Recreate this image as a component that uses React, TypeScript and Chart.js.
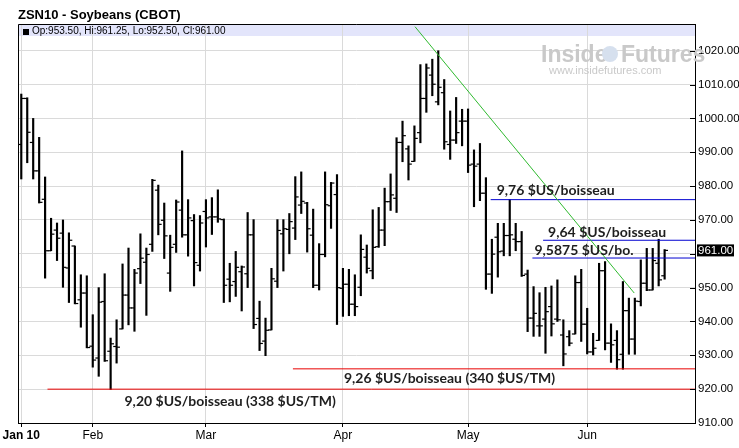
import React, { useEffect, useRef } from "react";
import { Chart, registerables } from "chart.js";

Chart.register(...registerables);

// ---- data ----
const monthTickIdx = [0, 12, 31, 54, 75, 95];
const monthLabels = ["Jan 10", "Feb", "Mar", "Apr", "May", "Jun"];

const opens = [
  992.3, 1005.9, 992.9, 984.5, 976.1, 960.9, 967.0, 966.1, 955.8, 962.3,
  946.4, 948.4, 932.7, 929.2, 945.9, 931.2, 932.6, 937.8, 947.8, 944.0,
  955.6, 957.5, 962.8, 978.8, 969.9, 954.3, 962.8, 972.9, 965.6, 969.8,
  956.6, 972.5, 970.9, 970.9, 970.1, 952.5, 951.8, 954.7, 954.1, 965.6,
  940.9, 934.2, 937.5, 951.9, 965.9, 967.2, 967.6, 974.4, 975.0, 965.5,
  950.7, 959.8, 974.2, 977.5, 949.8, 951.0, 945.1, 950.1, 959.0, 955.0,
  962.1, 967.0, 975.4, 976.4, 992.9, 991.0, 987.3, 995.8, 1005.9, 1012.8,
  1004.9, 1007.6, 992.3, 993.6, 999.2, 999.2, 986.5, 986.5, 977.9, 954.0,
  964.9, 960.8, 965.4, 964.3, 963.6, 954.0, 941.0, 938.7, 940.7, 944.4,
  940.7, 936.0, 935.5, 936.3, 951.5, 939.2, 931.0, 934.4, 955.0, 933.6,
  934.4, 930.3, 943.2, 934.8, 945.9, 951.3, 949.3, 957.2, 953.5,
];
const highs = [
  1007.2, 1006.1, 1000.0, 994.4, 982.7, 970.5, 969.1, 970.0, 966.2, 962.3,
  953.8, 953.5, 942.0, 950.0, 954.1, 935.1, 940.5, 957.0, 961.7, 955.4,
  965.9, 961.7, 982.0, 980.3, 975.0, 965.5, 975.9, 990.4, 976.0, 971.6,
  971.3, 976.0, 976.6, 978.9, 970.3, 957.2, 960.7, 956.4, 972.2, 970.1,
  946.0, 941.0, 955.7, 970.1, 970.1, 971.9, 982.8, 984.2, 975.2, 973.2,
  963.0, 984.2, 981.1, 983.4, 955.7, 955.4, 953.8, 965.6, 962.6, 973.0,
  973.7, 979.4, 983.6, 994.3, 999.2, 991.9, 997.8, 1015.9, 1016.1, 1017.5,
  1020.0, 1011.5, 1002.2, 1006.2, 1002.7, 1002.8, 990.7, 992.6, 982.5, 964.3,
  969.0, 969.0, 976.0, 969.0, 966.6, 955.2, 950.3, 948.5, 950.1, 950.5,
  952.3, 940.5, 937.3, 953.5, 955.4, 943.9, 936.5, 957.2, 957.7, 939.3,
  937.3, 951.8, 946.9, 946.9, 958.2, 961.6, 961.6, 964.3, 961.25,
];
const lows = [
  982.1, 986.9, 982.1, 975.0, 952.8, 960.9, 958.0, 950.1, 945.6, 945.2,
  938.3, 932.2, 926.5, 923.8, 928.2, 919.9, 927.7, 937.8, 939.0, 937.1,
  951.2, 941.8, 960.7, 965.6, 958.6, 948.9, 960.4, 964.9, 959.3, 950.5,
  954.9, 962.0, 965.7, 969.3, 945.6, 945.8, 947.4, 943.1, 950.0, 937.9,
  931.4, 929.9, 937.5, 950.0, 954.9, 960.0, 964.2, 971.9, 960.5, 950.0,
  949.3, 959.1, 967.5, 939.1, 941.5, 941.7, 941.7, 947.6, 954.3, 952.6,
  961.9, 962.4, 972.8, 972.2, 987.2, 981.8, 987.3, 992.8, 1001.8, 1006.7,
  1004.0, 990.9, 987.9, 992.6, 991.9, 984.0, 973.9, 975.7, 949.5, 948.3,
  953.1, 959.4, 959.4, 960.9, 953.3, 937.0, 935.6, 935.6, 930.6, 935.7,
  940.0, 926.9, 932.8, 936.3, 934.1, 930.4, 930.1, 934.4, 931.6, 927.9,
  925.9, 925.9, 930.3, 930.3, 944.6, 949.1, 949.3, 950.5, 952.5,
];
const closes = [
  1005.9, 995.9, 984.5, 975.2, 960.9, 965.8, 964.6, 956.0, 964.0, 945.3,
  948.4, 932.3, 928.6, 945.7, 928.4, 933.4, 932.4, 947.8, 944.0, 954.3,
  958.7, 959.8, 981.7, 968.7, 965.3, 961.9, 975.3, 965.6, 970.6, 957.4,
  969.1, 970.6, 970.9, 970.3, 950.7, 950.7, 956.0, 956.1, 965.6, 939.1,
  933.5, 937.4, 952.6, 966.9, 967.4, 969.5, 976.8, 975.5, 967.4, 950.7,
  959.8, 974.5, 980.9, 950.0, 951.0, 945.1, 944.4, 961.3, 955.7, 961.9,
  967.0, 975.4, 977.4, 992.9, 994.9, 986.5, 994.1, 1005.9, 1014.9, 1010.1,
  1009.2, 993.1, 993.6, 995.8, 999.2, 986.2, 985.9, 977.9, 954.0, 959.9,
  960.6, 965.4, 965.6, 963.6, 953.6, 941.0, 942.4, 938.7, 942.9, 939.3,
  940.5, 930.4, 933.6, 951.5, 939.2, 931.0, 932.1, 955.0, 933.6, 933.1,
  928.7, 943.2, 934.8, 946.0, 951.3, 949.3, 958.0, 952.3, 961.0,
];

const priceTicks = [910, 920, 930, 940, 950, 960, 970, 980, 990, 1000, 1010, 1020];
const lastPrice = 961.0;
const headerText = "Op:953.50, Hi:961.25, Lo:952.50, Cl:961.00";

const levelValues = [920, 926, 976, 964, 958.75];
const levelStarts = [4.4, 45.6, 78.8, 87.6, 85.8];
const levelLabels = [
  "9,20 $US/boisseau (338 $US/TM)",
  "9,26 $US/boisseau (340 $US/TM)",
  "9,76 $US/boisseau",
  "9,64 $US/boisseau",
  "9,5875 $US/bo.",
];
const trendX = [66.1, 102.9];
const trendY = [1027.1, 948.4];

// ---- styling / layout ----
const X_MIN = -0.55;
const X_MAX = 113.1;
const Y_MIN = 910;
const Y_MAX = 1027.9;
const levelColors = ["#e80000", "#e80000", "#0000d0", "#0000d0", "#0000d0"];
const labelOffsets = [
  [77, 12],
  [51, 10],
  [6, -9],
  [5, -8],
  [2, -7.5],
];
const NARROW = "'Liberation Sans Narrow', 'Arial Narrow', 'Liberation Sans', Arial, sans-serif";

const decor = {
  id: "decor",
  beforeDraw(chart: any) {
    const { ctx, chartArea: a } = chart;
    ctx.save();
    ctx.fillStyle = "#ffffff";
    ctx.fillRect(0, 0, chart.width, chart.height);
    ctx.fillStyle = "#e3e5fb";
    ctx.fillRect(a.left, a.top, a.right - a.left, 12);
    ctx.restore();
  },
  beforeDatasetsDraw(chart: any) {
    const { ctx } = chart;
    ctx.save();
    // watermark
    ctx.fillStyle = "#c9c9c9";
    ctx.textBaseline = "alphabetic";
    ctx.font = "bold 23px " + NARROW;
    ctx.textAlign = "left";
    ctx.fillText("Inside", 541, 62);
    ctx.fillText("Futures", 621, 62);
    ctx.fillStyle = "#d6e0ee";
    ctx.beginPath();
    ctx.arc(610, 54, 8, 0, Math.PI * 2);
    ctx.fill();
    ctx.fillStyle = "#c9c9c9";
    ctx.font = "11px " + NARROW;
    ctx.fillText("www.insidefutures.com", 549, 74);
    ctx.restore();
  },
  afterDatasetsDraw(chart: any) {
    const { ctx, chartArea: a, scales } = chart;
    const xs = scales.x;
    const ys = scales.y;
    ctx.save();
    // frame
    ctx.strokeStyle = "#000";
    ctx.lineWidth = 1;
    ctx.beginPath();
    ctx.moveTo(a.left + 0.5, a.bottom);
    ctx.lineTo(a.left + 0.5, a.top + 0.5);
    ctx.lineTo(a.right, a.top + 0.5);
    ctx.stroke();
    // y tick marks (inside)
    priceTicks.forEach((v) => {
      const y = Math.round(ys.getPixelForValue(v)) + 0.5;
      ctx.beginPath();
      ctx.moveTo(a.right - 5, y);
      ctx.lineTo(a.right, y);
      ctx.stroke();
    });
    // title
    ctx.fillStyle = "#000";
    ctx.font = "bold 13px 'Liberation Sans', Arial, sans-serif";
    ctx.textAlign = "left";
    ctx.textBaseline = "alphabetic";
    ctx.fillText("ZSN10 - Soybeans (CBOT)", 18, 19);
    // header
    ctx.fillRect(23, 29, 6, 6);
    ctx.font = "10px 'Liberation Sans', Arial, sans-serif";
    ctx.textBaseline = "middle";
    ctx.fillText(headerText, 32, 31.5);
    // level labels
    ctx.font = "bold 14px Lato, 'Open Sans', sans-serif";
    ctx.fillStyle = "#1e1e1e";
    levelValues.forEach((v, i) => {
      const x = xs.getPixelForValue(levelStarts[i]) + labelOffsets[i][0];
      const y = ys.getPixelForValue(v) + labelOffsets[i][1];
      ctx.fillText(levelLabels[i], x, y);
    });
    // last price box
    const py = ys.getPixelForValue(lastPrice);
    ctx.fillStyle = "#000";
    ctx.fillRect(a.right + 2, py - 6, 37, 12);
    ctx.fillStyle = "#fff";
    ctx.font = "11.5px " + NARROW;
    ctx.textBaseline = "middle";
    ctx.fillText(lastPrice.toFixed(2), a.right + 3, py + 0.5);
    ctx.restore();
  },
};

export default function App() {
  const ref = useRef<HTMLCanvasElement | null>(null);
  useEffect(() => {
    document.body.style.margin = "0";
    document.body.style.overflow = "hidden";
    const canvas = ref.current!;
    const levelSets = levelValues.map((v, i) => ({
      type: "line" as const,
      data: [
        { x: levelStarts[i], y: v },
        { x: X_MAX, y: v },
      ],
      borderColor: levelColors[i],
      borderWidth: 1,
      pointRadius: 0,
      order: 1,
    }));
    const chart = new Chart(canvas, {
      type: "bar",
      data: {
        datasets: [
          {
            type: "bar",
            data: highs.map((h, i) => ({ x: i, y: [lows[i], h] })) as any,
            backgroundColor: "#000",
            borderWidth: 0,
            barThickness: 1.5,
            grouped: false,
            order: 3,
          } as any,
          {
            type: "line",
            data: opens.map((o, i) => ({ x: i - 0.28, y: o })),
            showLine: false,
            pointStyle: "line",
            pointRadius: 1.7,
            pointBorderColor: "#000",
            pointBorderWidth: 1.2,
            order: 2,
          },
          {
            type: "line",
            data: closes.map((c, i) => ({ x: i + 0.28, y: c })),
            showLine: false,
            pointStyle: "line",
            pointRadius: 1.7,
            pointBorderColor: "#000",
            pointBorderWidth: 1.2,
            order: 2,
          },
          ...levelSets,
          {
            type: "line",
            data: trendX.map((x, i) => ({ x, y: trendY[i] })),
            borderColor: "#2fba2f",
            borderWidth: 1,
            pointRadius: 0,
            order: 0,
          },
        ] as any,
      },
      options: {
        responsive: false,
        devicePixelRatio: 1,
        animation: false,
        events: [],
        layout: { padding: { left: 18, top: 24, right: 0, bottom: 0 } },
        plugins: {
          legend: { display: false },
          tooltip: { enabled: false },
          title: { display: false },
        },
        scales: {
          x: {
            type: "linear",
            min: X_MIN,
            max: X_MAX,
            offset: false,
            grid: {
              offset: false,
              color: "#dadada",
              tickColor: "#000",
              tickLength: 4,
              drawTicks: true,
            },
            border: { color: "#000" },
            ticks: {
              autoSkip: false,
              maxRotation: 0,
              color: "#000",
              padding: 1,
              font: (c: any) =>
                c.index === 0
                  ? { family: NARROW, size: 12, weight: "bold" }
                  : { family: NARROW, size: 12, weight: "normal" },
              callback: (_v: any, idx: number) => monthLabels[idx],
            },
            afterBuildTicks: (s: any) => {
              s.ticks = monthTickIdx.map((v) => ({ value: v }));
            },
            afterFit: (s: any) => {
              s.height = 25;
            },
          },
          y: {
            type: "linear",
            position: "right",
            min: Y_MIN,
            max: Y_MAX,
            grid: { color: "#dadada", drawTicks: false },
            border: { color: "#000" },
            ticks: {
              color: "#000",
              padding: 3,
              font: { family: NARROW, size: 11.5 },
              callback: (v: any) => (v === 960 ? "" : Number(v).toFixed(2)),
            },
            afterBuildTicks: (s: any) => {
              s.ticks = priceTicks.map((v) => ({ value: v }));
            },
            afterFit: (s: any) => {
              s.width = 44;
            },
          },
        } as any,
      },
      plugins: [decor],
    });
    return () => chart.destroy();
  }, []);
  return (
    <canvas
      ref={ref}
      width={739}
      height={448}
      style={{ display: "block", width: 739, height: 448 }}
    />
  );
}
